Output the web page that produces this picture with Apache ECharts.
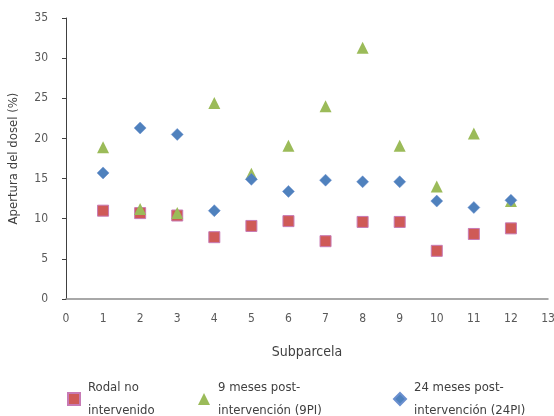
<!DOCTYPE html>
<html><head><meta charset="utf-8">
<script src="https://cdn.jsdelivr.net/npm/echarts@6/dist/echarts.min.js"></script>
<style>html,body{margin:0;padding:0;background:#fff}#c{width:554px;height:416px}</style>
</head><body><div id="c"></div>
<script>
var subparcelas = [1,2,3,4,5,6,7,8,9,10,11,12];
var rodalNoIntervenido = [11.0,10.7,10.4,7.7,9.1,9.7,7.2,9.6,9.6,6.0,8.1,8.8];
var meses9PI = [18.9,11.2,10.7,24.4,15.6,19.1,24.0,31.3,19.1,14.0,20.6,12.2];
var meses24PI = [15.7,21.3,20.5,11.0,14.9,13.4,14.8,14.6,14.6,12.2,11.4,12.3];
var seriesNames = ['Rodal no\nintervenido','9 meses post-\nintervención (9PI)','24 meses post-\nintervención (24PI)'];

function pairs(vals){return subparcelas.map(function(x,i){return [x,vals[i]];});}
var font = '"DejaVu Sans Condensed", "DejaVu Sans", sans-serif';
var chart = echarts.init(document.getElementById('c'));
function leg(name, left){
  return {data:[name], left:left, top:371, orient:'horizontal', itemWidth:12, itemHeight:12, itemGap:4,
    textStyle:{fontFamily:font, fontSize:13, color:'#404040', lineHeight:23, padding:[0,0,0,3]}, selectedMode:false};
}
chart.setOption({
  animation:false,
  textStyle:{fontFamily:font},
  grid:{left:66, right:6, top:18, bottom:117, outerBoundsMode:'none', containLabel:false},
  legend:[leg(seriesNames[0],62), leg(seriesNames[1],193), leg(seriesNames[2],388)],
  xAxis:{type:'value', min:0, max:13, interval:1,
    name:'Subparcela', nameLocation:'middle', nameGap:46,
    nameTextStyle:{fontFamily:font, fontSize:14, color:'#404040'},
    axisLine:{show:true, lineStyle:{color:'#8c8c8c', width:1.5}},
    axisTick:{show:false}, splitLine:{show:false},
    axisLabel:{fontFamily:font, fontSize:12, color:'#595959', margin:14}},
  yAxis:{type:'value', min:0, max:35, interval:5,
    name:'Apertura del dosel (%)', nameLocation:'middle', nameGap:46,
    nameTextStyle:{fontFamily:font, fontSize:13, color:'#404040'},
    axisLine:{show:true, lineStyle:{color:'#404040', width:1}},
    axisTick:{show:true, length:4, lineStyle:{color:'#404040'}}, splitLine:{show:false},
    axisLabel:{fontFamily:font, fontSize:12, color:'#595959', margin:18}},
  series:[
    {name:seriesNames[0], type:'scatter', symbol:'rect', symbolSize:11, data:pairs(rodalNoIntervenido),
      itemStyle:{color:'#cf5a57', borderColor:'#c77ab5', borderWidth:1, opacity:1}},
    {name:seriesNames[1], type:'scatter', symbol:'triangle', symbolSize:12, data:pairs(meses9PI),
      itemStyle:{color:'#9bbb59', opacity:1}},
    {name:seriesNames[2], type:'scatter', symbol:'diamond', symbolSize:12, data:pairs(meses24PI),
      itemStyle:{color:'#4f81bd', borderColor:'#6a8fcf', borderWidth:0.5, opacity:1}}
  ]
});
</script></body></html>
